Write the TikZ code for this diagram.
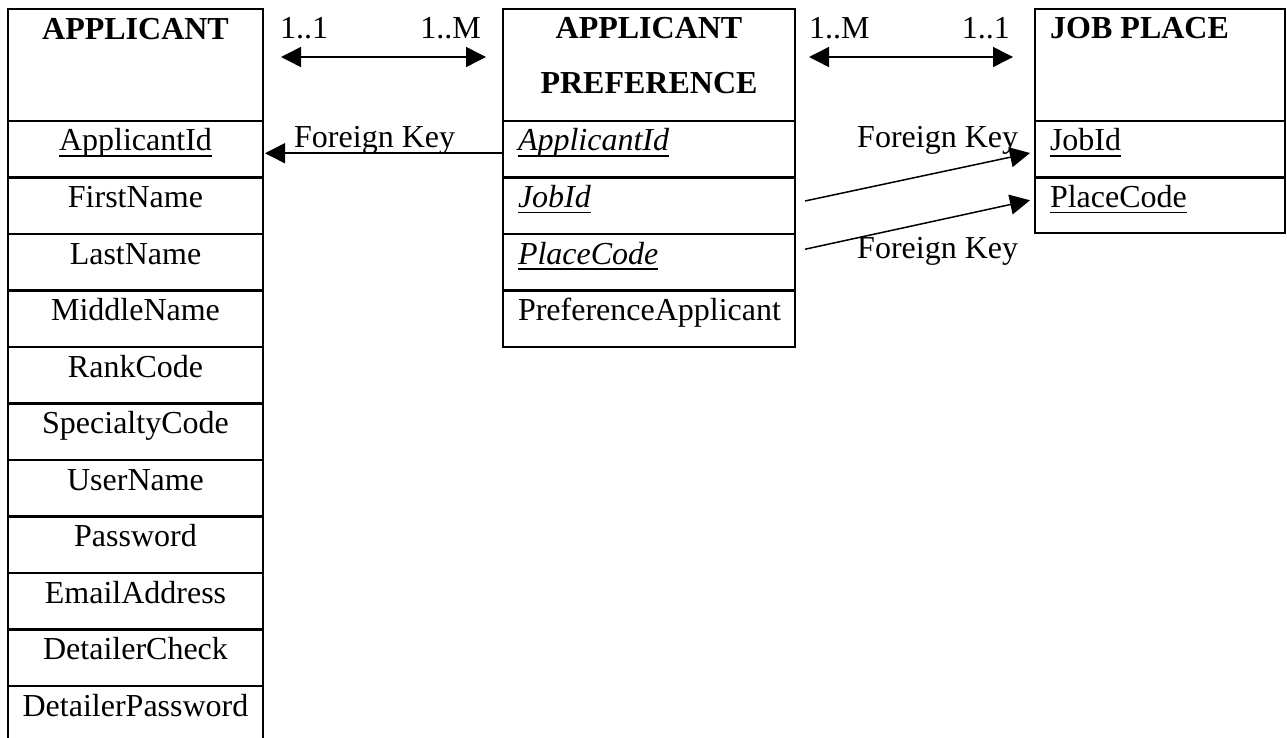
\documentclass[tikz,border=0pt]{standalone}
\usepackage{fontspec}
\setmainfont{Liberation Serif}
\usetikzlibrary{arrows.meta,calc}

% underline for key attributes, at a fixed depth below the baseline
\newsavebox\keybox
\newcommand\keyul[1]{\sbox\keybox{#1}\rlap{\rule[-6pt]{\wd\keybox}{1.8pt}}\usebox\keybox}

\tikzset{
  cell/.style={draw, line width=2.4pt, inner sep=0pt, outer sep=0pt, anchor=north west,
    font=\fontsize{32}{38}\selectfont},
  head/.style={cell, minimum height=112pt},
  rowc/.style={cell, minimum width=255pt, text height=30pt, text depth=26.5pt},
  rowl/.style={cell, inner xsep=15pt, text width=#1, align=left, text height=30pt, text depth=26.5pt},
  title/.style={inner sep=0pt, font=\fontsize{32}{38}\selectfont\bfseries},
  lab/.style={inner sep=0pt, font=\fontsize{32}{38}\selectfont},
  rel/.style={line width=1.5pt, {Triangle[length=20pt,width=20pt]}-{Triangle[length=20pt,width=20pt]}},
  fk/.style={line width=1.5pt, -{Triangle[length=20pt,width=20pt]}}
}

\begin{document}
\begin{tikzpicture}[x=1pt,y=-1pt]
\useasboundingbox (0,0) rectangle (1287,738);

% APPLICANT table
\node[head, minimum width=255pt] (aHead) at (8,9) {};
\node[title, anchor=base] (aTitle) at (135.5,39.5) {APPLICANT};
\node[rowc] (aA) at (aHead.south west) {\keyul{ApplicantId}};
\node[rowc] (aF) at (aA.south west) {FirstName};
\node[rowc] (aL) at (aF.south west) {LastName};
\node[rowc] (aM) at (aL.south west) {MiddleName};
\node[rowc] (aR) at (aM.south west) {RankCode};
\node[rowc] (aS) at (aR.south west) {SpecialtyCode};
\node[rowc] (aU) at (aS.south west) {UserName};
\node[rowc] (aP) at (aU.south west) {Password};
\node[rowc] (aE) at (aP.south west) {EmailAddress};
\node[rowc] (aC) at (aE.south west) {DetailerCheck};
\node[rowc, text depth=60pt] (aD) at (aC.south west) {DetailerPassword};

% APPLICANT PREFERENCE table
\node[head, minimum width=292pt] (pHead) at (503,9) {};
\node[title, anchor=base] (pTitle1) at (649,38.5) {APPLICANT};
\node[title, anchor=base] (pTitle2) at (649,94) {PREFERENCE};
\node[rowl=262pt] (pA) at (pHead.south west) {\keyul{\itshape ApplicantId}};
\node[rowl=262pt] (pJ) at (pA.south west) {\keyul{\itshape JobId}};
\node[rowl=262pt] (pP) at (pJ.south west) {\keyul{\itshape PlaceCode}};
\node[rowl=262pt] (pX) at (pP.south west) {PreferenceApplicant};

% JOB PLACE table
\node[head, minimum width=250pt] (jHead) at (1035,9) {};
\node[title, anchor=base west] (jTitle) at (1050,38.5) {JOB PLACE};
\node[rowl=220pt] (jJ) at (jHead.south west) {\keyul{JobId}};
\node[rowl=220pt, text depth=25.5pt] (jP) at (jJ.south west) {\keyul{PlaceCode}};

% relationships with cardinalities
\draw[rel] ($(aHead.north east)+(18,48)$) -- ($(pHead.north west)+(-17,48)$);
\node[lab, anchor=base west] (c11a) at (280,39) {1..1};
\node[lab, anchor=base east] (c1Ma) at (481,39) {1..M};
\draw[rel] ($(pHead.north east)+(14,48)$) -- ($(jHead.north west)+(-22,48)$);
\node[lab, anchor=base west] (c1Mb) at (809,39) {1..M};
\node[lab, anchor=base east] (c11b) at (1010,39) {1..1};

% foreign keys
\draw[fk] ($(pA.west)+(0,4)$) -- ($(aA.east)+(2,4)$);
\node[lab, anchor=base west] (fk1) at (294,148) {Foreign Key};
\draw[fk] ($(pJ.east)+(10,-4.75)$) -- ($(jJ.west)+(-5,3.75)$);
\node[lab, anchor=base west] (fk2) at (857,148) {Foreign Key};
\draw[fk] ($(pP.east)+(10,-13)$) -- ($(jP.west)+(-5,-5)$);
\node[lab, anchor=base west] (fk3) at (857,258) {Foreign Key};
\end{tikzpicture}
\end{document}
